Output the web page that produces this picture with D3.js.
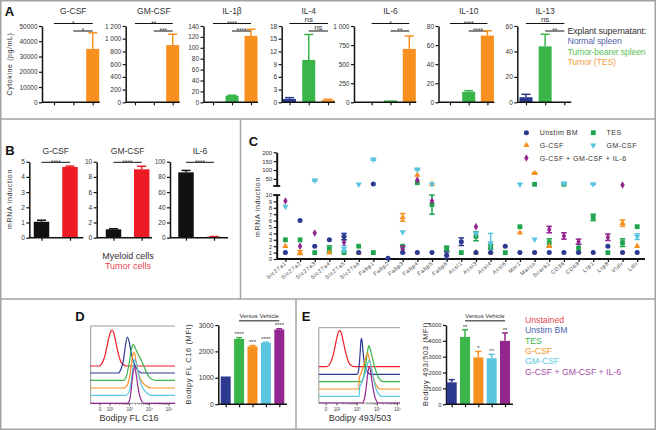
<!DOCTYPE html>
<html><head><meta charset="utf-8">
<script src="https://cdn.jsdelivr.net/npm/d3@7"></script>
<style>body{margin:0;background:#fff}svg{display:block}</style>
</head><body><svg id="c" width="656" height="430"></svg>
<script>
// ---------------- DATA ----------------
const cytokines=["G-CSF","GM-CSF","IL-1β","IL-4","IL-6","IL-10","IL-13"];
const explant=["Normal spleen","Tumor-bearer spleen","Tumor (TES)"];
const cytoNormal=[0,0,0,0.8,0,0,4];
const cytoBearer=[0,5,12,10,25,11,44];
const cytoTumor=[35000,900,122,0.5,700,70,0];
const cytoNormalErr=[0,0,0,0.3,0,0,2.3];
const cytoBearerErr=[0,0,1,6,0,1.2,9.5];
const cytoTumorErr=[10500,170,12,0.2,170,5,0];
const cytoTickLabels=[["0","10000","20000","30000","40000","50000"],["0","200","400","600","800","1 000","1 200"],["0","20","40","60","80","100","120","140"],["0","3","6","9","12","15","18"],["0","250","500","750","1 000"],["0","20","40","60","80"],["0","20","40","60"]];
const cytoSig=[["*","*"],["**","***"],["****","****"],["ns","ns"],["*","**"],["****","****"],["ns","**"]];

const bGenes=["G-CSF","GM-CSF","IL-6"];
const bCells=["Myeloid cells","Tumor cells"];
const bMyeloid=[1.05,1.1,86];
const bMyeloidErr=[0.1,0.08,2.5];
const bTumor=[4.65,9.0,1.2];
const bTumorErr=[0.06,0.4,0.3];
const bTickLabels=[["0","1","2","3","4","5"],["0","2","4","6","8","10"],["0","20","40","60","80","100"]];
const bSig=["****","****","****"];

const genes=["Slc27a1","Slc27a2","Slc27a3","Slc27a4","Slc27a5","Slc27a6","Fabp1","Fabp2","Fabp3","Fabp4","Fabp5","Fabp6","Acsl1","Acsl3","Acsl4","Acsl6","Msr1","Marco","Scarb1","CD36","CD68","Lrp1","Lrp8","Vldlr","Ldlr"];
const cSeries=["Unstim BM","TES","G-CSF","GM-CSF","G-CSF + GM-CSF + IL-6"];
const cUnstim=[1,6,2,3,3.5,1,21,0.1,1,1,1,0.6,2.7,1,1,2,1,1,1,1,1,1,2,1,1];
const cUnstimErr=[0,0,0,0,0.5,0,0,0,0,0,0,0.5,0.6,0,0,0,0,0,0,0,0,0,0,0,0];
const cTES=[3,3,1,1.55,1,2,1,null,2,28.6,8.5,1.66,1,3.55,1.9,1,5.05,19.6,2.55,19.6,1.67,6.5,1,2.55,5.05];
const cTESErr=[0,0,0,0.5,0,0,0,0,0,0,1.5,0.35,0,0.7,0.4,0,0,0,0.6,0,0.6,0.5,0,0.6,0];
const cGCSF=[2,1,null,1,null,1,null,null,6.5,72,20,null,null,1,1,null,4.1,81.6,2,null,null,null,null,5.6,2];
const cGCSFErr=[0,0.3,0,0,0,0,0,0,0.6,0,0,0,0,0,0,0,0,3,0,0,0,0,0,0.5,0];
const cGMCSF=[8.2,null,42,null,1.6,19.6,160,null,4.2,104,21,null,null,4,2.5,null,19.6,3.07,null,25,null,21,null,null,3.5];
const cGMCSFErr=[0,0,4,0,0.5,0,5,0,0,4,0,0,0,0,1.5,0,0,0,0,2,0,2,0,0,0.45];
const cCombo=[9.06,2,4.06,null,2.6,null,null,null,1.5,43.8,9.06,null,null,5.05,null,null,null,null,4.6,3.6,2.7,null,3.4,15.6,null];
const cComboErr=[0,0,0,0,0,0,0,0,0.5,0,0,0,0,0,0,0,0,0,0.5,0.5,0.4,0,0.5,0,0];
const cLowTicks=["0","1","2","3","4","5","6","7","8","9","10"];
const cHighTicks=["50","100","150","200"];

const treatments=["Unstim BM","TES","G-CSF","GM-CSF","G-CSF + GM-CSF + IL-6"];
const histLegend=["Unstained","Unstim BM","TES","G-CSF","GM-CSF","G-CSF + GM-CSF + IL-6"];
const c16MFI=[1050,2470,2190,2330,2830];
const c16Err=[0,50,30,20,30];
const c16Sig=["","****","***","****","****"];
const bodipyMFI=[1380,4250,2950,2900,4000];
const bodipyErr=[170,450,380,250,500];
const bodipySig=["","**","*","**","**"];
const c16Ticks=["0","1000","2000","3000"];
const bodipyTicks=["0","1000","2000","3000","4000","5000"];
const histTickLabels=["0","10²","10³","10⁴","10⁵"];
// histogram traces: [decade, relative height]
const histC16=[
 [[1,0],[1.45,0],[1.6,0.08],[1.75,0.3],[1.85,0.55],[1.95,0.8],[2.05,0.97],[2.12,1],[2.2,0.9],[2.3,0.65],[2.42,0.35],[2.55,0.12],[2.7,0.03],[2.8,0],[5.3,0]],
 [[1,0],[2.4,0],[2.55,0.1],[2.68,0.35],[2.78,0.75],[2.88,1],[2.98,0.85],[3.08,0.55],[3.2,0.3],[3.35,0.12],[3.5,0.03],[3.6,0],[5.3,0]],
 [[1,0],[2.7,0],[2.85,0.15],[2.98,0.5],[3.08,0.85],[3.18,1],[3.28,0.9],[3.4,0.75],[3.55,0.6],[3.7,0.42],[3.85,0.22],[4.0,0.08],[4.15,0.02],[4.3,0],[5.3,0]],
 [[1,0],[2.7,0],[2.85,0.05],[2.95,0.2],[3.05,0.5],[3.15,0.9],[3.23,1],[3.32,0.75],[3.42,0.45],[3.55,0.25],[3.7,0.12],[3.85,0.05],[4.0,0.01],[4.1,0],[5.3,0]],
 [[1,0],[2.8,0],[2.95,0.08],[3.05,0.3],[3.15,0.7],[3.27,1],[3.37,0.8],[3.5,0.45],[3.65,0.22],[3.8,0.1],[3.95,0.03],[4.1,0],[5.3,0]],
 [[1,0],[2.9,0],[3.0,0.1],[3.08,0.4],[3.17,0.85],[3.25,1],[3.33,0.8],[3.42,0.45],[3.52,0.18],[3.62,0.05],[3.72,0],[5.3,0]]
];
const histBodipy=[
 [[1.1,0],[1.5,0],[1.65,0.08],[1.8,0.3],[1.9,0.55],[2.0,0.82],[2.08,0.97],[2.15,1],[2.23,0.9],[2.33,0.65],[2.45,0.35],[2.58,0.12],[2.72,0.03],[2.85,0],[5.12,0]],
 [[1.1,0],[3.0,0],[3.08,0.15],[3.14,0.55],[3.19,0.95],[3.22,1],[3.26,0.8],[3.32,0.45],[3.4,0.2],[3.5,0.07],[3.6,0.01],[3.7,0],[5.12,0]],
 [[1.1,0],[3.2,0],[3.3,0.1],[3.4,0.4],[3.5,0.8],[3.58,1],[3.67,0.85],[3.78,0.6],[3.9,0.35],[4.02,0.15],[4.15,0.04],[4.3,0],[5.12,0]],
 [[1.1,0],[3.08,0],[3.1,0.3],[3.2,0.45],[3.35,0.7],[3.45,0.92],[3.52,1],[3.6,0.85],[3.72,0.5],[3.85,0.22],[4.0,0.06],[4.1,0],[5.12,0]],
 [[1.1,0],[3.1,0],[3.12,0.25],[3.25,0.4],[3.4,0.65],[3.52,0.92],[3.6,1],[3.7,0.8],[3.82,0.45],[3.95,0.18],[4.08,0.05],[4.2,0],[5.12,0]],
 [[1.1,0],[3.25,0],[3.35,0.1],[3.45,0.45],[3.53,0.85],[3.6,1],[3.67,0.85],[3.76,0.5],[3.86,0.2],[3.96,0.05],[4.05,0],[5.12,0]]
];

// ---------------- STYLE ----------------
const FONT='"Liberation Sans", Arial, Helvetica, sans-serif';
const BLUE="#2b3990",GREEN="#39b54a",ORANGE="#f7901e",CYAN="#5bc5e0",PURPLE="#93278f",RED="#ed1c24",BLACK="#111";
const svg=d3.select("#c").attr("font-family",FONT);

function txt(g,x,y,s,o={}){
  const t=g.append("text").attr("x",x).attr("y",y).text(s)
   .attr("font-size",o.fs||8).attr("fill",o.fill||"#333")
   .attr("text-anchor",o.anchor||"middle");
  if(o.bold) t.attr("font-weight","bold");
  if(o.ls) t.attr("letter-spacing",o.ls);
  if(o.rot!==undefined) t.attr("transform",`rotate(${o.rot},${x},${y})`);
  if(o.mid) t.attr("dominant-baseline","central");
  return t;
}
function styleAxis(a,fs){
  a.attr("font-family",FONT);
  a.select(".domain").attr("stroke",BLACK).attr("stroke-width",1.5);
  a.selectAll(".tick line").attr("stroke",BLACK).attr("stroke-width",1.2);
  a.selectAll(".tick text").attr("font-size",fs).attr("fill","#333");
}
function barChart(o){
  const g=svg.append("g");
  const y=d3.scaleLinear().domain([0,o.yMax]).range([o.bottom,o.top]);
  const x=d3.scalePoint().domain(o.cats).range(o.xr);
  const tv=o.tickLabels.map(s=>+s.replace(/\s/g,""));
  const ya=g.append("g").attr("transform",`translate(${o.axisX},0)`)
    .call(d3.axisLeft(y).tickValues(tv).tickFormat((d,i)=>o.tickLabels[i]).tickSize(3).tickSizeOuter(0).tickPadding(1.5));
  styleAxis(ya,o.fs||6.5);
  o.cats.forEach((c,i)=>{
    const v=o.vals[i],e=o.errs[i];
    if(!(v>0)||!(e>0))return;
    g.append("line").attr("x1",x(c)).attr("x2",x(c)).attr("y1",y(v)).attr("y2",y(v+e)).attr("stroke",o.colors[i]).attr("stroke-width",1.5);
    g.append("line").attr("x1",x(c)-o.capW/2).attr("x2",x(c)+o.capW/2).attr("y1",y(v+e)).attr("y2",y(v+e)).attr("stroke",o.colors[i]).attr("stroke-width",1.5);
  });
  g.selectAll("rect.bar").data(o.cats).join("rect").attr("class","bar")
    .attr("x",d=>x(d)-o.barW/2).attr("width",o.barW)
    .attr("y",(d,i)=>y(o.vals[i])).attr("height",(d,i)=>Math.max(0,y(0)-y(o.vals[i])))
    .attr("fill",(d,i)=>o.colors[i]);
  const xa=g.append("g").attr("transform",`translate(0,${o.bottom})`)
    .call(d3.axisBottom(x).tickSize(3).tickSizeOuter(0).tickFormat(""));
  styleAxis(xa,6);
  xa.select(".domain").remove();
  g.append("line").attr("x1",o.axisX).attr("x2",o.xEnd).attr("y1",o.bottom).attr("y2",o.bottom).attr("stroke",BLACK).attr("stroke-width",1.5);
  return {g,x,y};
}
function sigLine(g,x1,x2,y,s){
  g.append("line").attr("x1",x1).attr("x2",x2).attr("y1",y).attr("y2",y).attr("stroke",BLACK).attr("stroke-width",1);
  if(s==="ns") txt(g,(x1+x2)/2,y-1.5,s,{fs:8,fill:"#333"});
  else txt(g,(x1+x2)/2,y+2.3,s,{fs:6.5,fill:"#333"});
}

// ---------------- PANEL BORDERS ----------------
const bord=svg.append("g").attr("stroke","#a3a3a3").attr("stroke-width",1.5).attr("fill","none");
bord.append("rect").attr("x",0.75).attr("y",0.75).attr("width",654.5).attr("height",428.5);
bord.append("line").attr("x1",0).attr("x2",656).attr("y1",119).attr("y2",119);
bord.append("line").attr("x1",240.5).attr("x2",240.5).attr("y1",119).attr("y2",299);
bord.append("line").attr("x1",0).attr("x2",656).attr("y1",299).attr("y2",299);
bord.append("line").attr("x1",296).attr("x2",296).attr("y1",299).attr("y2",430);

// ---------------- PANEL A ----------------
const gA=svg.append("g");
txt(gA,9.5,15.5,"A",{fs:13,bold:true,fill:"#111"});
txt(gA,9,64,"Cytokine (pg/mL)",{fs:7,rot:-90,mid:true,ls:0.6});
const aLayout=[{ax:42,xr:[54,92.7]},{ax:125.7,xr:[135,172.7]},{ax:203.5,xr:[213,251]},{ax:281.7,xr:[289.5,328]},{ax:354,xr:[371.7,409.3]},{ax:438.5,xr:[450,487.4]},{ax:517.3,xr:[526,564.3]}];
cytokines.forEach((name,k)=>{
  const L=aLayout[k];
  const tl=cytoTickLabels[k];
  const r=barChart({axisX:L.ax,xr:L.xr,xEnd:L.xr[1]+7,top:26,bottom:102.3,yMax:+tl[tl.length-1].replace(/\s/g,""),
    tickLabels:tl,cats:explant,vals:[cytoNormal[k],cytoBearer[k],cytoTumor[k]],errs:[cytoNormalErr[k],cytoBearerErr[k],cytoTumorErr[k]],
    colors:[BLUE,GREEN,ORANGE],barW:13,capW:9,fs:6.5});
  txt(gA,r.x(explant[1]),14,name,{fs:8.5,fill:"#333"});
  sigLine(gA,r.x(explant[0]),r.x(explant[2]),23.5,cytoSig[k][0]);
  sigLine(gA,r.x(explant[1]),r.x(explant[2]),31,cytoSig[k][1]);
});
txt(gA,567.5,33.5,"Explant supernatant:",{fs:8.8,anchor:"start",fill:"#333",ls:-0.1});
const aLegCol=["#5566b0","#5cbf5c","#f7a04a"];
explant.forEach((s,i)=>txt(gA,567.5,44+i*10.6,s,{fs:8.8,anchor:"start",fill:aLegCol[i],ls:-0.2}));

// ---------------- PANEL B ----------------
const gB=svg.append("g");
txt(gB,10,154.5,"B",{fs:13,bold:true,fill:"#111"});
txt(gB,9,199,"mRNA induction",{fs:7,rot:-90,mid:true,ls:0.7});
const bLayout=[{ax:29.3,xr:[41.5,70],xEnd:83.3},{ax:96.7,xr:[113.5,141.7],xEnd:152},{ax:170,xr:[186,214],xEnd:228}];
bGenes.forEach((name,k)=>{
  const L=bLayout[k];
  const tl=bTickLabels[k];
  const r=barChart({axisX:L.ax,xr:L.xr,xEnd:L.xEnd,top:161.7,bottom:237.7,yMax:+tl[tl.length-1],
    tickLabels:tl,cats:bCells,vals:[bMyeloid[k],bTumor[k]],errs:[bMyeloidErr[k],bTumorErr[k]],
    colors:[BLACK,RED],barW:15.5,capW:9,fs:6.5});
  txt(gB,(r.x(bCells[0])+r.x(bCells[1]))/2,153.5,name,{fs:8.5,fill:"#333"});
  sigLine(gB,r.x(bCells[0]),r.x(bCells[1]),162.3,bSig[k]);
});
txt(gB,128,259,bCells[0],{fs:9,fill:"#333"});
txt(gB,128,269,bCells[1],{fs:9,fill:"#e8474f"});

// ---------------- PANEL C ----------------
const gC=svg.append("g");
txt(gC,253.5,145.5,"C",{fs:13,bold:true,fill:"#111"});
txt(gC,257.5,207,"mRNA induction",{fs:7,rot:-90,mid:true,ls:0.7});
const cAxisX=276.7;
const yLow=d3.scaleLinear().domain([0,10]).range([259,195]);
const yHigh=d3.scaleLinear().domain([10,200]).range([186,152.3]);
const yC=v=>v>10?yHigh(v):yLow(v);
const xC=d3.scalePoint().domain(genes).range([285.4,637.2]);
const la=gC.append("g").attr("transform",`translate(${cAxisX},0)`)
  .call(d3.axisLeft(yLow).tickValues(cLowTicks.map(Number)).tickFormat((d,i)=>cLowTicks[i]).tickSize(3).tickSizeOuter(0).tickPadding(1.5));
styleAxis(la,6);la.select(".domain").attr("stroke-width",2);
const ha=gC.append("g").attr("transform",`translate(${cAxisX},0)`)
  .call(d3.axisLeft(yHigh).tickValues(cHighTicks.map(Number)).tickFormat((d,i)=>cHighTicks[i]).tickSize(3).tickSizeOuter(0).tickPadding(1.5));
styleAxis(ha,6);ha.select(".domain").attr("stroke-width",2);
[yHigh(10),yLow(10)].forEach(yy=>gC.append("line").attr("x1",cAxisX-3.5).attr("x2",cAxisX+3.5).attr("y1",yy).attr("y2",yy).attr("stroke",BLACK).attr("stroke-width",1.8));
const cxa=gC.append("g").attr("transform",`translate(0,259)`).call(d3.axisBottom(xC).tickSize(3).tickSizeOuter(0).tickFormat(""));
styleAxis(cxa,6);cxa.select(".domain").remove();
gC.append("line").attr("x1",cAxisX).attr("x2",645).attr("y1",259).attr("y2",259).attr("stroke",BLACK).attr("stroke-width",2);
genes.forEach(gn=>{
  const x=xC(gn)+1.5,y=264;
  txt(gC,x,y,gn,{fs:5.5,anchor:"end",rot:-40,fill:"#444",ls:0.6});
});
const cVals=[cUnstim,cTES,cGCSF,cGMCSF,cCombo];
const cErrs=[cUnstimErr,cTESErr,cGCSFErr,cGMCSFErr,cComboErr];
const cCols=[BLUE,"#1fa54d",ORANGE,CYAN,PURPLE];
const cSym=[d3.symbolCircle,d3.symbolSquare,d3.symbolTriangle,d3.symbolTriangle,d3.symbolDiamond];
const cRot=[0,0,0,180,0];
const cSize=[20,23,17,17,17];
const drawOrder=[1,2,3,4,0];
drawOrder.forEach(s=>{
  const gs=gC.append("g");
  genes.forEach((gn,i)=>{
    const v=cVals[s][i];if(v===null)return;
    const e=cErrs[s][i],x=xC(gn);
    if(e>0){
      const y1=yC(v-e),y2=yC(v+e);
      gs.append("line").attr("x1",x).attr("x2",x).attr("y1",y1).attr("y2",y2).attr("stroke",cCols[s]).attr("stroke-width",1.5);
      [y1,y2].forEach(yy=>gs.append("line").attr("x1",x-2.8).attr("x2",x+2.8).attr("y1",yy).attr("y2",yy).attr("stroke",cCols[s]).attr("stroke-width",1.5));
    }
    gs.append("path").attr("d",d3.symbol().type(cSym[s]).size(cSize[s])())
      .attr("transform",`translate(${x},${yC(v)}) rotate(${cRot[s]})`).attr("fill",cCols[s]);
  });
});
// legend C
const cLeg=[[526.4,132.7],[593.3,132.7],[526.4,145.3],[593.3,145.3],[526.4,158]];
cSeries.forEach((s,i)=>{
  const [lx,ly]=cLeg[i];
  gC.append("path").attr("d",d3.symbol().type(cSym[i]).size(cSize[i])()).attr("transform",`translate(${lx},${ly}) rotate(${cRot[i]})`).attr("fill",cCols[i]);
  txt(gC,lx+13.3,ly,s,{fs:7,anchor:"start",mid:true,ls:0.45,fill:"#333"});
});

// ---------------- HISTOGRAMS ----------------
const histCols=[RED,BLUE,GREEN,ORANGE,CYAN,PURPLE];
function histogram(o){
  const g=svg.append("g");
  const x=d3.scaleLinear().domain([2,5]).range(o.xr);
  const h=36;
  g.append("line").attr("x1",o.left).attr("x2",o.right).attr("y1",o.top).attr("y2",o.top).attr("stroke","#999").attr("stroke-width",1);
  g.append("line").attr("x1",o.left).attr("x2",o.left).attr("y1",o.top).attr("y2",o.bottom).attr("stroke","#999").attr("stroke-width",1);
  g.append("line").attr("x1",o.left).attr("x2",o.right).attr("y1",o.bottom).attr("y2",o.bottom).attr("stroke","#999").attr("stroke-width",1);
  o.traces.forEach((tr,i)=>{
    const base=o.baselines[i];
    const line=d3.line().x(d=>x(d[0])).y(d=>base-d[1]*h).curve(d3.curveMonotoneX);
    g.append("path").attr("d",line(tr)).attr("fill","none").attr("stroke",histCols[i]).attr("stroke-width",1.2);
  });
  for(let n=2;n<5;n++) for(let k=2;k<10;k++){
    const xx=x(n+Math.log10(k));
    g.append("line").attr("x1",xx).attr("x2",xx).attr("y1",o.bottom).attr("y2",o.bottom+1.5).attr("stroke","#555").attr("stroke-width",0.6);
  }
  const labD=[o.zeroD,2,3,4,5];
  labD.forEach((d,i)=>{
    const xx=x(d);
    g.append("line").attr("x1",xx).attr("x2",xx).attr("y1",o.bottom).attr("y2",o.bottom+2.5).attr("stroke","#333").attr("stroke-width",0.8);
    txt(g,xx,o.bottom+7.5,histTickLabels[i],{fs:4.5,fill:"#333"});
  });
  txt(g,o.labelX,o.bottom+18,o.label,{fs:9,fill:"#333"});
}
histogram({left:90.7,right:175,top:326,bottom:403.3,xr:[110,169.1],zeroD:1.49,traces:histC16,baselines:[366,373,380.3,388,395.3,403.3],label:"Bodipy FL C16",labelX:129});
histogram({left:318.8,right:400,top:327.7,bottom:403,xr:[337,397.6],zeroD:1.46,traces:histBodipy,baselines:[366.7,374.3,381.7,389,396.3,403],label:"Bodipy 493/503",labelX:360});

// ---------------- PANEL D / E BARS ----------------
const tCols=[BLUE,GREEN,ORANGE,CYAN,PURPLE];
function mfiChart(o){
  const r=barChart({axisX:o.ax,xr:o.xr,xEnd:o.xEnd,top:325,bottom:404.2,yMax:+o.ticks[o.ticks.length-1],tickLabels:o.ticks,
    cats:treatments,vals:o.vals,errs:o.errs,colors:tCols,barW:10,capW:6,fs:o.fs});
  treatments.forEach((t,i)=>{ if(o.sig[i]) txt(r.g,r.x(t),r.y(o.vals[i]+o.errs[i])-1.2,o.sig[i],{fs:6,fill:"#333"}); });
  txt(r.g,(r.x(treatments[1])+r.x(treatments[4]))/2,318,"Versus Vehicle",{fs:6,fill:"#333"});
  r.g.append("line").attr("x1",r.x(treatments[1])).attr("x2",r.x(treatments[4])).attr("y1",320.7).attr("y2",320.7).attr("stroke","#666").attr("stroke-width",1.5);
  txt(r.g,o.labX,364,o.ylab,{fs:7.5,rot:-90,mid:true,ls:0.6});
}
const gD=svg.append("g");
txt(gD,80,320.5,"D",{fs:13,bold:true,fill:"#111"});
mfiChart({ax:218.3,xr:[225.7,279.3],xEnd:287,ticks:c16Ticks,vals:c16MFI,errs:c16Err,sig:c16Sig,ylab:"Bodipy FL C16 (MFI)",labX:188.5,fs:6.8});
txt(gD,306,320.5,"E",{fs:13,bold:true,fill:"#111"});
mfiChart({ax:446,xr:[451.7,505],xEnd:513,ticks:bodipyTicks,vals:bodipyMFI,errs:bodipyErr,sig:bodipySig,ylab:"Bodipy 493/503 (MFI)",labX:425.2,fs:5.8});
const legCols=["#e8474f","#4b5fae","#3ab54a","#f7941d","#5fc9e2","#a64ca6"];
histLegend.forEach((s,i)=>txt(gD,525,320+i*10.35,s,{fs:8.7,anchor:"start",mid:true,fill:legCols[i]}));
</script></body></html>
